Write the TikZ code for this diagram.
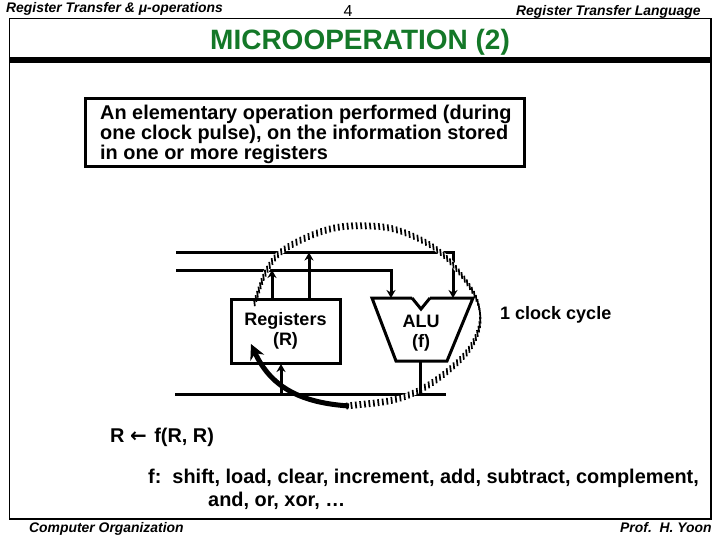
\documentclass[tikz,border=0pt]{standalone}
\usepackage{fontspec}
\setmainfont{Liberation Sans}
\newfontfamily\arrowfont{DejaVu Sans}
\usetikzlibrary{arrows.meta,decorations.markings}
\definecolor{titlegreen}{RGB}{20,120,40}
\tikzset{
  wire/.style={line width=3pt,line cap=butt},
  arrowwire/.style={wire,-{Stealth[length=8pt,width=9pt]}},
  hdr/.style={inner sep=0pt,anchor=base west,font=\fontsize{13.9}{16}\selectfont\bfseries\itshape},
  body/.style={inner sep=0pt,anchor=base west,font=\fontsize{19.9}{20}\selectfont\bfseries},
  small/.style={inner sep=0pt,align=center,font=\fontsize{18}{20.5}\selectfont\bfseries},
  hatched/.style={decoration={markings,
    mark=between positions 0 and 1 step 4.5pt with {\pgftransformresetnontranslations
      \draw[line width=1.7pt] (-0.4pt,3.4pt) -- (0.4pt,-3.4pt);}},decorate},
}
\newcommand{\clockcurve}{(347,406) .. controls (362,404) and (379.4,403.4) .. (393,400)
 .. controls (406.6,396.6) and (415.6,392.8) .. (427,386)
 .. controls (438.4,379.2) and (451.7,368.3) .. (460,360)
 .. controls (468.3,351.7) and (472.6,345) .. (476,337)
 .. controls (479.4,329) and (481,321.5) .. (480,313)
 .. controls (479,304.5) and (476.8,297.4) .. (470,287)
 .. controls (463.2,276.6) and (451.4,261.4) .. (440,252)
 .. controls (428.6,242.6) and (414.9,236.4) .. (403,232)
 .. controls (391.1,227.6) and (382.4,226.5) .. (370,226)
 .. controls (357.6,225.5) and (343.9,225.4) .. (330,229)
 .. controls (316.1,232.6) and (298.5,240.4) .. (288,247)
 .. controls (277.5,253.6) and (273.8,258.3) .. (268,268)
 .. controls (262.2,277.7) and (258.6,292.1) .. (254,304)}
\begin{document}
\begin{tikzpicture}[x=1pt,y=-1pt]
\useasboundingbox (0,0) rectangle (720,540);
% frame
\draw[line width=1.5pt] (9.5,18.5) rectangle (711,519);
\fill[black] (9.5,57) rectangle (711,63);
% headers
\node[hdr] (h1) at (6,13) {Register Transfer \& μ-operations};
\node[inner sep=0pt,anchor=base,font=\fontsize{16}{18}\selectfont] (h2) at (348,17) {4};
\node[hdr] (h3) at (516,16) {Register Transfer Language};
\node[inner sep=0pt,anchor=base west,text=titlegreen,font=\fontsize{28}{30}\selectfont\bfseries] (title) at (210,50) {MICROOPERATION (2)};
\node[hdr] (f1) at (29,532) {Computer Organization};
\node[hdr] (f2) at (620,532) {Prof.\ \ H. Yoon};
% definition
\draw[line width=3pt] (85,99) rectangle (524,167);
\node[body] (d1) at (100,120) {An elementary operation performed (during};
\node[body] (d2) at (100,140) {one clock pulse), on the information stored};
\node[body] (d3) at (100,160) {in one or more registers};
% buses
\coordinate (b1s) at (176,252.5);
\coordinate (b1c) at (453,252.5);
\coordinate (b1e) at (453,298);
\coordinate (b2s) at (176,270);
\coordinate (b2c) at (391,270);
\coordinate (b2e) at (391,298);
\coordinate (b3s) at (175,394);
\coordinate (b3e) at (446,394);
\draw[arrowwire,line join=miter] (b1s) -- (b1c) -- (b1e);
\draw[arrowwire,line join=miter] (b2s) -- (b2c) -- (b2e);
\draw[wire] (b3s) -- (b3e);
% white halo so the hatching interrupts the lines it crosses
\draw[line width=5pt,white] \clockcurve;
% hatched clock cycle curve
\path[hatched] \clockcurve;
% register block
\node[draw,line width=3pt,minimum width=109pt,minimum height=64pt,small,inner sep=0pt] (regs) at (285.5,331) {Registers\\(R)};
% ALU
\node[small,inner sep=0pt] (alu) at (421,333) {ALU\\(f)};
\coordinate (aTL) at (372,298);
\coordinate (aN1) at (412,298);
\coordinate (aNm) at (421,309);
\coordinate (aN2) at (430,298);
\coordinate (aTR) at (473,298);
\coordinate (aBR) at (447,361);
\coordinate (aBL) at (396,361);
\draw[wire,line join=miter] (aN1) -- (aTL) -- (aBL) -- (aBR) -- (aTR) -- (aN2);
\draw[wire,line join=miter] (aN1) -- (aNm) -- (aN2);
% register outputs and input
\coordinate (r1b) at (272,298);
\coordinate (r1t) at (272,270);
\coordinate (r2b) at (309,298);
\coordinate (r2t) at (309,252.5);
\coordinate (r3b) at (281,394);
\coordinate (r3t) at (281,364);
\draw[arrowwire] (r1b) -- (r1t);
\draw[arrowwire] (r2b) -- (r2t);
\draw[arrowwire] (r3b) -- (r3t);
\coordinate (aout) at (420.5,361);
\coordinate (aoutb) at (420.5,394);
\draw[wire] (aout) -- (aoutb);
% thick return arrow
\coordinate (cs) at (349,406);
\coordinate (ct) at (251,344);
\draw[line width=5pt,-{Stealth[length=15pt,width=15pt]}] (cs) .. controls (305,403) and (272,390) .. (ct);
% labels
\node[small,anchor=base west] (clk) at (500,319) {1 clock cycle};
\node[body] (eq) at (110,442) {R {\arrowfont ←}\kern2pt\ f(R, R)};
\node[body] (fl1) at (148,483) {f:\ \ shift, load, clear, increment, add, subtract, complement,};
\node[body] (fl2) at (208,506) {and, or, xor, …};
\end{tikzpicture}
\end{document}
